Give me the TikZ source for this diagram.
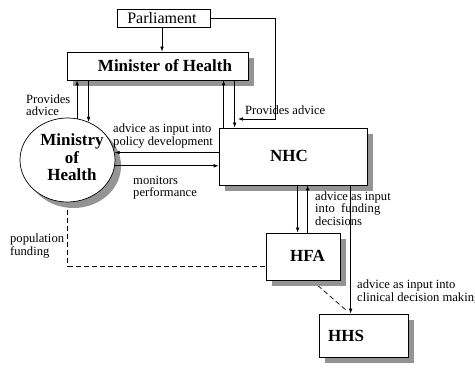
\documentclass[tikz,border=0pt]{standalone}
\usepackage{fontspec}
\setmainfont{Liberation Serif}
\usetikzlibrary{shadows,arrows.meta,calc,backgrounds,shapes.geometric}

\tikzset{
  x=1pt, y=-1pt,
  shade/.style={drop shadow={shadow xshift=6pt, shadow yshift=-6pt, fill=black!42, opacity=1}},
  box/.style={draw, line width=0.7pt, fill=white, inner sep=0pt},
  bigtext/.style={font=\fontsize{17}{17.5}\selectfont\bfseries, inner sep=0pt, align=center},
  smalltext/.style={font=\fontsize{12.6}{12.4}\selectfont, inner sep=0pt, align=left, anchor=west},
  arr/.style={line width=0.7pt, -{Latex[length=5pt,width=3.6pt]}},
  plain/.style={line width=0.7pt},
  dashline/.style={line width=0.7pt, dash pattern=on 5pt off 3pt},
}

\begin{document}
\begin{tikzpicture}
\useasboundingbox (0,0) rectangle (475,369);

% organisations
\node[box, minimum width=93pt, minimum height=18pt] (parl) at (163.5,18) {};
\node[inner sep=0pt, font=\fontsize{16}{16}\selectfont] (parl-t) at (162,18) {Parliament};

\node[box, shade, minimum width=181pt, minimum height=28pt] (min) at (157.5,66) {};
\node[bigtext] (min-t) at (165,65.5) {Minister of Health};

\node[box, shade, ellipse, minimum width=95pt, minimum height=84pt] (ministry) at (67.5,160) {};
\node[bigtext] (ministry-t) at (72,157.5) {Ministry\\of\\Health};

\node[box, shade, minimum width=148pt, minimum height=57pt] (nhc) at (293,156.5) {};
\node[bigtext] (nhc-t) at (289,155.5) {NHC};

\node[box, shade, minimum width=74pt, minimum height=47pt] (hfa) at (303,256.5) {};
\node[bigtext] (hfa-t) at (307.5,255.5) {HFA};

\node[box, shade, minimum width=89pt, minimum height=43pt] (hhs) at (363.5,335.5) {};
\node[bigtext] (hhs-t) at (346,336) {HHS};

% connector anchor points
\coordinate (pa) at (238,119);
\coordinate (nu) at ($(nhc.north west)+(5,0)$);
\coordinate (nd) at ($(nhc.north west)+(16,0)$);
\coordinate (hd) at ($(hfa.north west)+(32,0)$);
\coordinate (hu) at ($(hfa.north west)+(42,0)$);
\coordinate (sd) at ($(hhs.north west)+(32,0)$);
\coordinate (fc) at ($(hfa.south west)+(0,-14)$);
\coordinate (ds) at ($(hfa.south west)+(52,5)$);
\coordinate (de) at ($(hhs.north west)+(28,-3)$);

% connectors
\draw[arr] (parl-t.south |- parl.south) -- (parl-t.south |- min.north);
\draw[arr] (parl.east) -| (275,119) -- (pa);

\draw[arr] (ministry.77) -- (ministry.77 |- min.south);
\draw[arr] (ministry.61.6 |- min.south) -- (ministry.61.6);

\draw[arr] (nu) -- (nu |- min.south);
\draw[arr] (nd |- min.south) -- (nd);

\draw[arr] (ministry.9.7 -| nhc.west) -- (ministry.9.7);
\draw[arr] (ministry.-7.3) -- (ministry.-7.3 -| nhc.west);

\draw[arr] (hd |- nhc.south) -- (hd);
\draw[arr] (hu) -- (hu |- nhc.south);
\draw[arr] (sd |- nhc.south) -- (sd);

\begin{scope}[on background layer]
  \draw[dashline] (ministry.south) |- (fc) -- (fc -| hfa.west);
  \draw[dashline] (ds) -- (de);
\end{scope}

% labels
\node[smalltext] (l1) at (26,105) {Provides\\advice};
\node[smalltext] (l2) at (245,110) {Provides advice};
\node[smalltext] (l3) at (113,136) {advice as input into\\policy development};
\node[smalltext] (l4) at (133,187.5) {monitors\\performance};
\node[smalltext] (l5) at (315,208.5) {advice as input\\into\ \ funding\\decisions};
\node[smalltext] (l6) at (357,292) {advice as input into\\clinical decision making};
\node[smalltext] (l7) at (10,246) {population\\funding};
\end{tikzpicture}
\end{document}
